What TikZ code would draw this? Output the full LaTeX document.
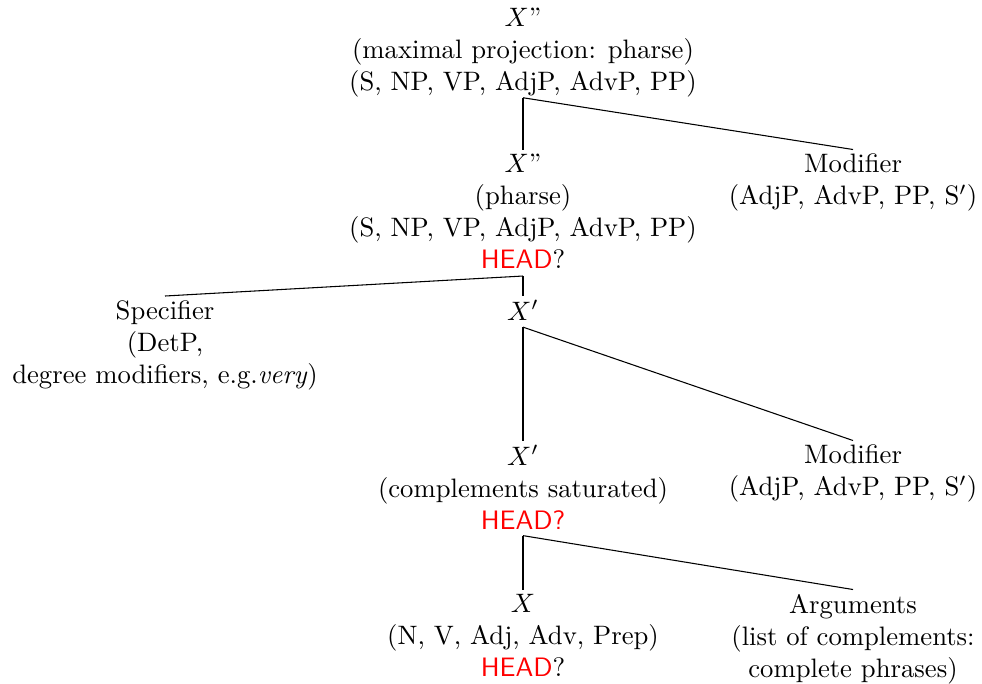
\documentclass[tikz,border=0pt]{standalone}
\begin{document}
\begin{tikzpicture}[x=0.375pt,y=-0.375pt,
  tn/.style={align=center, inner sep=0pt, anchor=north},
  link/.style={draw=black, line width=0.4pt}]
\newcommand\headmark{\textcolor{red}{\textsf{HEAD}}}
\useasboundingbox (0,0) rectangle (982,683);

% nodes, top to bottom
\node[tn] (root) at (523,7.5) {$X$''\\(maximal projection: pharse)\\(S, NP, VP, AdjP, AdvP, PP)};

\node[tn] (xpp) at (523,153.5) {$X$''\\(pharse)\\(S, NP, VP, AdjP, AdvP, PP)\\\headmark?};
\node[tn] (mod1) at (853,153.5) {Modifier\\(AdjP, AdvP, PP, S$'$)};

\node[tn] (spec) at (165,300) {Specifier\\(DetP,\\degree modifiers, e.g.\textit{very})};
\node[tn] (xp1) at (523,300) {$X'$};

\node[tn] (xp2) at (523,444.5) {$X'$\\(complements saturated)\\\textcolor{red}{\textsf{HEAD?}}};
\node[tn] (mod2) at (853,444.5) {Modifier\\(AdjP, AdvP, PP, S$'$)};

\node[tn] (x0) at (523,593.5) {$X$\\(N, V, Adj, Adv, Prep)\\\headmark?};
\node[tn] (args) at (853,593.5) {Arguments\\(list of complements:\\complete phrases)};

% branches: each fork starts just under its parent and stops just above the child
\draw[link] (root.south) -- ([yshift=1.5pt]xpp.north);
\draw[link] (root.south) -- ([yshift=1.5pt]mod1.north);
\draw[link] ([yshift=-2.6pt]xpp.south) -- ([yshift=1.5pt]spec.north);
\draw[link] ([yshift=-2.6pt]xpp.south) -- ([yshift=1.5pt]xp1.north);
\draw[link] ([yshift=-2.25pt]xp1.south) -- ([yshift=1.5pt]xp2.north);
\draw[link] ([yshift=-2.25pt]xp1.south) -- ([yshift=1.5pt]mod2.north);
\draw[link] ([yshift=-2.25pt]xp2.south) -- ([yshift=1.5pt]x0.north);
\draw[link] ([yshift=-2.25pt]xp2.south) -- ([yshift=1.5pt]args.north);
\end{tikzpicture}
\end{document}
